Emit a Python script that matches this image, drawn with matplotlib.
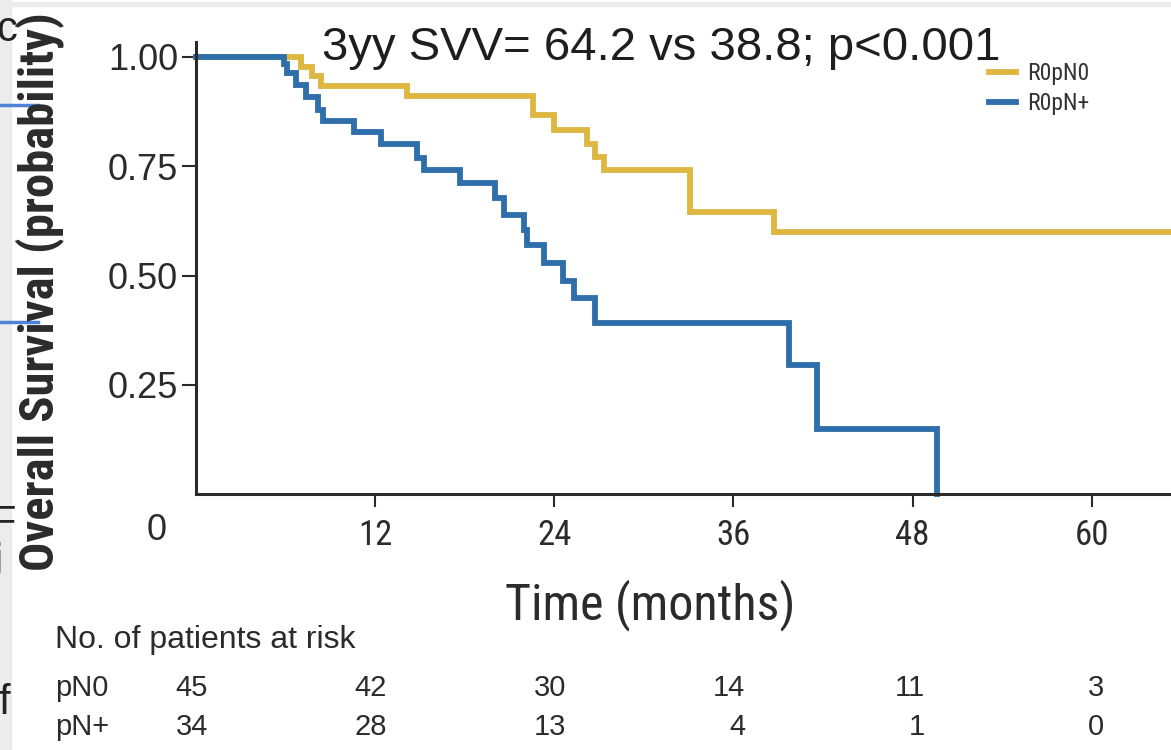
import matplotlib
matplotlib.use('Agg')
import matplotlib.pyplot as plt
import matplotlib.transforms as mtransforms
from matplotlib import font_manager
from matplotlib.patches import Rectangle
from matplotlib.lines import Line2D

W, H = 1171, 750

# Kaplan-Meier steps (months, survival)
t_pn0 = [0, 7.0, 7.8, 8.4, 14.1, 22.6, 24.0, 26.2, 26.7, 27.3, 33.1, 38.7, 65.3]
s_pn0 = [1.0, 0.978, 0.956, 0.933, 0.911, 0.867, 0.833, 0.800, 0.772, 0.741, 0.645, 0.600, 0.600]

t_pnp = [0, 5.9, 6.1, 6.7, 7.4, 8.2, 8.5, 10.6, 12.4, 14.8, 15.3, 17.7, 20.0, 20.6,
         22.0, 22.2, 23.3, 24.6, 25.3, 26.7, 39.7, 41.6, 49.6]
s_pnp = [1.0, 0.985, 0.963, 0.936, 0.909, 0.879, 0.853, 0.828, 0.80, 0.77, 0.741, 0.711,
         0.677, 0.638, 0.604, 0.570, 0.529, 0.487, 0.449, 0.392, 0.295, 0.148, 0.0]

series_labels = ['R0pN0', 'R0pN+']
series_colors = ['#DDB740', '#2E6EAA']

xticks = [12, 24, 36, 48, 60]
yticks = [0.25, 0.50, 0.75, 1.00]
ytick_labels = ['0.25', '0.50', '0.75', '1.00']

risk_times = [0, 12, 24, 36, 48, 60]
risk_rows = ['pN0', 'pN+']
risk_pn0 = [45, 42, 30, 14, 11, 3]
risk_pnp = [34, 28, 13, 4, 1, 0]

title = '3yy SVV= 64.2 vs 38.8; p<0.001'

# pick a condensed face if one is installed
names = {f.name for f in font_manager.fontManager.ttflist}
narrow = None
for cand in ['Liberation Sans Narrow', 'Roboto Condensed', 'Open Sans Condensed', 'DejaVu Sans Condensed']:
    if cand in names:
        narrow = cand
        break
if narrow:
    nfam = [narrow, 'DejaVu Sans']
    ylab_size, xlab_size, xt_size = 35, 36, 25
else:
    nfam = ['Liberation Sans', 'DejaVu Sans']
    ylab_size, xlab_size, xt_size = 29, 30, 21
rfam = ['Liberation Sans', 'DejaVu Sans']
txtc = '#2b2b2b'


def fx(px):
    return px / W


def fy(py):
    return 1 - py / H


fig = plt.figure(figsize=(W / 100, H / 100), dpi=100)

# bits of the slide behind the chart
fig.patches.append(Rectangle((0, 0), fx(11), 1, transform=fig.transFigure, color='#ececec', zorder=0))
fig.patches.append(Rectangle((0, fy(6)), 1, fx(6), transform=fig.transFigure, color='#ececec', zorder=0))
for yy in [105, 322]:
    fig.lines.append(Line2D([0, fx(38)], [fy(yy), fy(yy)], transform=fig.transFigure,
                            color='#4d82d6', lw=2.5))
for ch, xx, yy in [('c', -4, 30), ('F', -9, 524), ('i', -7, 562), ('f', -2, 703)]:
    fig.text(fx(xx), fy(yy), ch, fontsize=30, family=rfam, color='#222222', ha='left', va='center')

ax = fig.add_axes([fx(196), fy(494), 979 / W, 452 / H])
ax.set_xlim(0, 979 / 14.93)
ax.set_ylim(0, 452 / 437)

lines = []
for t, s, c, lab in zip([t_pn0, t_pnp], [s_pn0, s_pnp], series_colors, series_labels):
    ln, = ax.step(t, s, where='post', color=c, lw=4.2, label=lab, solid_joinstyle='miter',
                  clip_on=False)
    lines.append(ln)

for side in ['top', 'right']:
    ax.spines[side].set_visible(False)
for side in ['left', 'bottom']:
    ax.spines[side].set_linewidth(2.2)
    ax.spines[side].set_color('#2a2a2a')

ax.set_xticks(xticks)
ax.set_xticklabels([str(v) for v in xticks], family=nfam, fontsize=xt_size, color=txtc)
ax.set_yticks(yticks)
ax.set_yticklabels(ytick_labels, family=rfam, fontsize=26, color=txtc)
ax.tick_params(axis='x', direction='out', length=9, width=1.5, pad=9, colors='#2a2a2a')
ax.tick_params(axis='y', direction='out', length=10, width=1.5, pad=3, colors='#2a2a2a')
for lb in ax.get_xticklabels() + ax.get_yticklabels():
    lb.set_color(txtc)

# shared origin label
fig.text(fx(157), fy(531), '0', family=rfam, fontsize=26, color=txtc, ha='center', va='center')

fig.text(fx(40), fy(292), 'Overall Survival (probability)', rotation=90, family=nfam,
         fontsize=ylab_size, fontweight='bold', color=txtc, ha='center', va='center')
fig.text(fx(650), fy(605), 'Time (months)', family=nfam, fontsize=xlab_size, color=txtc,
         ha='center', va='center')

fig.text(fx(322), fy(48), title, family=rfam, fontsize=34, color='#1e1e1e', ha='left', va='center')

ax.legend(lines, series_labels, loc='upper left', bbox_to_anchor=(fx(989), fy(62)),
          bbox_transform=fig.transFigure, frameon=False, handlelength=1.15,
          handletextpad=0.45, labelspacing=0.3, borderpad=0, borderaxespad=0,
          prop={'family': nfam, 'size': 17})
for tx in ax.get_legend().get_texts():
    tx.set_color('#333333')

# numbers at risk
fig.text(fx(55), fy(640), 'No. of patients at risk', family=rfam, fontsize=23, color=txtc,
         ha='left', va='center')
shift = mtransforms.ScaledTranslation(12 / 100, 0, fig.dpi_scale_trans)
tr = mtransforms.blended_transform_factory(ax.transData, fig.transFigure) + shift
for row, vals, yy in zip(risk_rows, [risk_pn0, risk_pnp], [688, 727]):
    fig.text(fx(55), fy(yy), row, family=rfam, fontsize=21, color=txtc, ha='left', va='center')
    for tm, v in zip(risk_times, vals):
        fig.text(tm, fy(yy), str(v), transform=tr, family=rfam, fontsize=21, color=txtc,
                 ha='right', va='center')

fig.savefig('out.png', dpi=100)
